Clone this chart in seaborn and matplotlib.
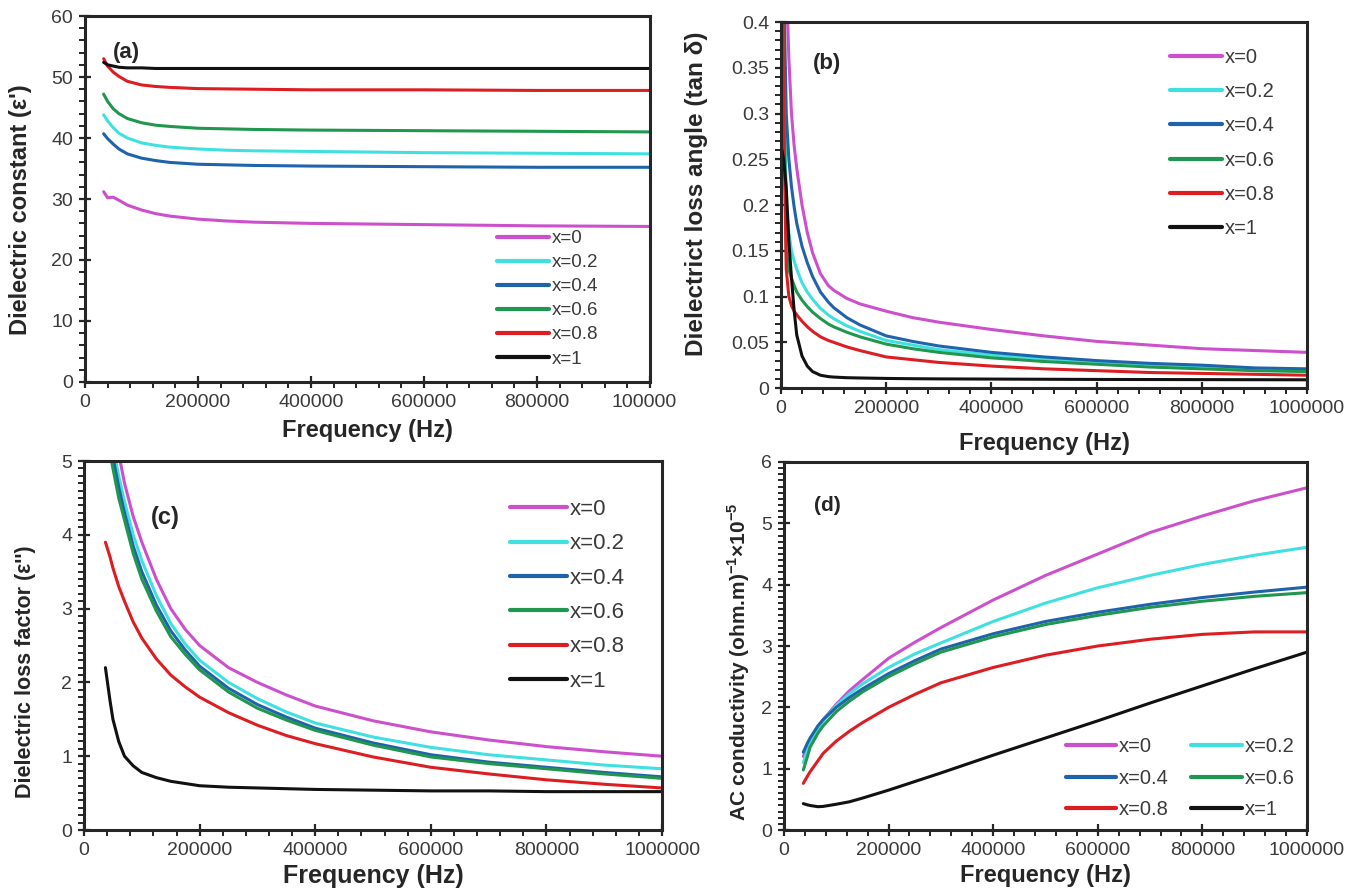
import numpy as np
import pandas as pd
import seaborn as sns
import matplotlib.pyplot as plt
from matplotlib.ticker import MultipleLocator, FormatStrFormatter
from matplotlib.transforms import Bbox, TransformedBbox

# ---- data ----
labels = ['x=0', 'x=0.2', 'x=0.4', 'x=0.6', 'x=0.8', 'x=1']
colors = ['#cc50cc', '#40e0e0', '#1f64aa', '#20964f', '#dc1e23', '#111111']

# (a) dielectric constant
freq_a = [33000, 40000, 50000, 60000, 75000, 100000, 125000, 150000, 200000, 250000, 300000, 400000, 600000, 800000, 1000000]
eps_x0 = [31.2, 30.2, 30.3, 29.8, 29.0, 28.2, 27.6, 27.2, 26.7, 26.4, 26.2, 26.0, 25.8, 25.6, 25.5]
eps_x02 = [43.8, 42.8, 41.7, 40.8, 40.0, 39.2, 38.8, 38.5, 38.2, 38.0, 37.9, 37.8, 37.6, 37.5, 37.4]
eps_x04 = [40.7, 39.9, 39.0, 38.2, 37.4, 36.7, 36.3, 36.0, 35.7, 35.6, 35.5, 35.4, 35.3, 35.2, 35.2]
eps_x06 = [47.2, 46.0, 44.8, 44.0, 43.2, 42.5, 42.1, 41.9, 41.6, 41.5, 41.4, 41.3, 41.2, 41.1, 41.0]
eps_x08 = [53.0, 51.8, 50.8, 50.1, 49.3, 48.7, 48.45, 48.3, 48.1, 48.05, 48.0, 47.9, 47.9, 47.8, 47.8]
eps_x1 = [52.4, 52.0, 51.8, 51.6, 51.5, 51.5, 51.4, 51.4, 51.4, 51.4, 51.4, 51.4, 51.4, 51.4, 51.4]

# (b) loss angle
freq_b = [2000, 5000, 10000, 15000, 20000, 25000, 30000, 40000, 50000, 60000, 75000, 90000, 100000,
          125000, 150000, 200000, 250000, 300000, 400000, 500000, 600000, 700000, 800000, 900000, 1000000]
tan_x0 = [1.2, 0.75, 0.45, 0.36, 0.30, 0.265, 0.24, 0.20, 0.17, 0.148, 0.125, 0.112, 0.107,
          0.098, 0.092, 0.084, 0.077, 0.072, 0.064, 0.057, 0.051, 0.047, 0.043, 0.041, 0.039]
tan_x02 = [0.8, 0.4, 0.2, 0.17, 0.15, 0.139, 0.13, 0.115, 0.105, 0.097, 0.087, 0.08, 0.076,
           0.068, 0.062, 0.052, 0.047, 0.042, 0.036, 0.032, 0.029, 0.026, 0.024, 0.021, 0.020]
tan_x04 = [0.9, 0.45, 0.30, 0.25, 0.22, 0.198, 0.18, 0.155, 0.137, 0.122, 0.105, 0.094, 0.088,
           0.077, 0.069, 0.057, 0.051, 0.046, 0.039, 0.034, 0.030, 0.027, 0.025, 0.022, 0.021]
tan_x06 = [0.7, 0.35, 0.15, 0.13, 0.12, 0.112, 0.105, 0.096, 0.089, 0.083, 0.076, 0.07, 0.067,
           0.061, 0.056, 0.048, 0.043, 0.039, 0.033, 0.029, 0.026, 0.023, 0.021, 0.019, 0.018]
tan_x08 = [0.6, 0.3, 0.13, 0.10, 0.09, 0.084, 0.08, 0.073, 0.067, 0.062, 0.056, 0.052, 0.05,
           0.045, 0.041, 0.034, 0.031, 0.028, 0.024, 0.021, 0.019, 0.017, 0.016, 0.015, 0.014]
tan_x1 = [0.26, 0.25, 0.22, 0.16, 0.12, 0.085, 0.058, 0.035, 0.024, 0.018, 0.014, 0.0125, 0.012,
          0.0113, 0.011, 0.0105, 0.0102, 0.010, 0.0098, 0.0096, 0.0094, 0.0093, 0.0092, 0.0091, 0.009]

# (c) loss factor
freq_c = [37000, 45000, 50000, 60000, 70000, 85000, 100000, 125000, 150000, 175000, 200000, 250000,
          300000, 350000, 400000, 500000, 600000, 700000, 800000, 900000, 1000000]
eps2_x0 = [6.5, 5.9, 5.6, 5.1, 4.7, 4.25, 3.9, 3.4, 3.0, 2.72, 2.5, 2.2,
           2.0, 1.83, 1.68, 1.48, 1.33, 1.22, 1.13, 1.06, 1.0]
eps2_x02 = [6.0, 5.5, 5.2, 4.8, 4.45, 4.0, 3.65, 3.18, 2.8, 2.52, 2.3, 2.0,
            1.78, 1.6, 1.45, 1.26, 1.12, 1.02, 0.95, 0.88, 0.83]
eps2_x04 = [5.8, 5.3, 5.05, 4.65, 4.3, 3.85, 3.5, 3.05, 2.7, 2.44, 2.22, 1.92,
            1.7, 1.53, 1.38, 1.18, 1.02, 0.92, 0.85, 0.78, 0.72]
eps2_x06 = [5.3, 5.1, 4.9, 4.5, 4.2, 3.75, 3.4, 2.97, 2.62, 2.38, 2.17, 1.87,
            1.65, 1.49, 1.35, 1.15, 0.99, 0.9, 0.83, 0.76, 0.70]
eps2_x08 = [3.9, 3.7, 3.55, 3.3, 3.1, 2.82, 2.6, 2.32, 2.1, 1.94, 1.8, 1.59,
            1.42, 1.28, 1.17, 0.99, 0.85, 0.76, 0.68, 0.62, 0.57]
eps2_x1 = [2.2, 1.75, 1.5, 1.2, 1.0, 0.87, 0.78, 0.71, 0.66, 0.63, 0.6, 0.58,
           0.57, 0.56, 0.55, 0.54, 0.53, 0.53, 0.52, 0.52, 0.52]

# (d) AC conductivity
freq_d = [37000, 45000, 50000, 65000, 75000, 100000, 125000, 150000, 200000, 250000, 300000,
          400000, 500000, 600000, 700000, 800000, 900000, 1000000]
sig_x0 = [1.2, 1.38, 1.45, 1.68, 1.8, 2.05, 2.27, 2.45, 2.8, 3.06, 3.3,
          3.75, 4.15, 4.5, 4.85, 5.12, 5.37, 5.58]
sig_x02 = [1.1, 1.3, 1.42, 1.65, 1.78, 2.03, 2.22, 2.38, 2.65, 2.87, 3.05,
           3.4, 3.7, 3.95, 4.15, 4.33, 4.48, 4.61]
sig_x04 = [1.27, 1.42, 1.5, 1.7, 1.8, 2.0, 2.16, 2.3, 2.55, 2.76, 2.95,
           3.2, 3.4, 3.55, 3.68, 3.79, 3.88, 3.96]
sig_x06 = [0.98, 1.2, 1.35, 1.58, 1.7, 1.93, 2.1, 2.25, 2.5, 2.71, 2.9,
           3.15, 3.35, 3.5, 3.63, 3.73, 3.81, 3.87]
sig_x08 = [0.76, 0.88, 0.95, 1.13, 1.25, 1.45, 1.61, 1.75, 2.0, 2.21, 2.4,
           2.65, 2.85, 3.0, 3.11, 3.19, 3.23, 3.23]
sig_x1 = [0.43, 0.41, 0.40, 0.38, 0.385, 0.42, 0.46, 0.52, 0.65, 0.79, 0.93,
          1.22, 1.5, 1.78, 2.07, 2.35, 2.63, 2.9]


def long_df(freq, series):
    rows = []
    for lab, vals in zip(labels, series):
        for f, v in zip(freq, vals):
            rows.append({'freq': f, 'val': v, 'x': lab})
    return pd.DataFrame(rows)


sns.set_style('ticks')
plt.rcParams['font.family'] = ['Liberation Sans', 'DejaVu Sans']
plt.rcParams['mathtext.fontset'] = 'custom'
plt.rcParams['mathtext.rm'] = 'Liberation Sans'
plt.rcParams['mathtext.bf'] = 'Liberation Sans:bold'

fig = plt.figure(figsize=(13.62, 8.9), dpi=100)

panels = [
    dict(rect=[0.0624, 0.5708, 0.4148, 0.4112], df=long_df(freq_a, [eps_x0, eps_x02, eps_x04, eps_x06, eps_x08, eps_x1]),
         ylim=(0, 60), ymaj=10, ymin=2, ylabel="Dielectric constant (ε')", ysize=17, ypos=(-0.093, 0.47),
         xsize=17, xpad=6, tag='(a)', tagpos=(0.05, 0.90), tagsize=16,
         leg=dict(loc='upper left', bbox_to_anchor=(0.729, 0.415), fontsize=13.5, labelspacing=0.37,
                  handlelength=2.8)),
    dict(rect=[0.5734, 0.564, 0.3862, 0.4112], df=long_df(freq_b, [tan_x0, tan_x02, tan_x04, tan_x06, tan_x08, tan_x1]),
         ylim=(0, 0.4), ymaj=0.05, ymin=0.01, ylabel='Dielectrict loss angle (tan δ)', ysize=17.5, ypos=(-0.139, 0.53),
         xsize=17, xpad=11, tag='(b)', tagpos=(0.06, 0.888), tagsize=16,
         leg=dict(loc='upper left', bbox_to_anchor=(0.74, 0.93), fontsize=14.5, labelspacing=0.76,
                  handlelength=2.55)),
    dict(rect=[0.0617, 0.0674, 0.4244, 0.4146], df=long_df(freq_c, [eps2_x0, eps2_x02, eps2_x04, eps2_x06, eps2_x08, eps2_x1]),
         ylim=(0, 5), ymaj=1, ymin=0.1, ylabel="Dielectric loss factor (ε'')", ysize=15.5, ypos=(-0.083, 0.43),
         xsize=18, xpad=3.5, tag='(c)', tagpos=(0.116, 0.848), tagsize=17,
         leg=dict(loc='upper left', bbox_to_anchor=(0.737, 0.897), fontsize=16, labelspacing=0.6,
                  handlelength=2.55)),
    dict(rect=[0.5756, 0.0674, 0.384, 0.4135], df=long_df(freq_d, [sig_x0, sig_x02, sig_x04, sig_x06, sig_x08, sig_x1]),
         ylim=(0, 6), ymaj=1, ymin=0.1,
         ylabel='AC conductivity (ohm.m)$^{\\mathbf{-1}}$×10$^{\\mathbf{-5}}$', ysize=15, ypos=(-0.062, 0.456),
         xsize=17, xpad=3.5, tag='(d)', tagpos=(0.058, 0.883), tagsize=15,
         leg=dict(loc='upper left', bbox_to_anchor=(0.539, 0.253), fontsize=14.5, labelspacing=0.63,
                  handlelength=2.5, ncol=2, columnspacing=1.1)),
]

for i, p in enumerate(panels):
    ax = fig.add_axes(p['rect'])
    sns.lineplot(data=p['df'], x='freq', y='val', hue='x', hue_order=labels,
                 palette=colors, linewidth=2.2, ax=ax, sort=False)
    ax.set_xlim(0, 1000000)
    ax.set_ylim(*p['ylim'])
    ax.xaxis.set_major_locator(MultipleLocator(200000))
    ax.xaxis.set_minor_locator(MultipleLocator(40000))
    ax.xaxis.set_major_formatter(FormatStrFormatter('%d'))
    ax.yaxis.set_major_locator(MultipleLocator(p['ymaj']))
    ax.yaxis.set_minor_locator(MultipleLocator(p['ymin']))
    ax.yaxis.set_major_formatter(FormatStrFormatter('%g'))
    ax.tick_params(which='major', direction='inout', length=8, width=1.6, labelsize=14,
                   labelcolor='#3a3a3a', pad=4.5)
    ax.tick_params(which='minor', direction='out', length=4, width=1.4)
    for s in ax.spines.values():
        s.set_linewidth(2.2)
    ax.set_xlabel('Frequency (Hz)', fontsize=p['xsize'], fontweight='bold', labelpad=p['xpad'])
    ax.set_ylabel(p['ylabel'], fontsize=p['ysize'], fontweight='bold')
    ax.yaxis.set_label_coords(*p['ypos'])
    ax.text(p['tagpos'][0], p['tagpos'][1], p['tag'], transform=ax.transAxes,
            fontsize=p['tagsize'], fontweight='bold', va='center', ha='left')
    handles, labs = ax.get_legend_handles_labels()
    for h in handles:
        h.set_linewidth(3)
    if p['leg'].get('ncol') == 2:
        order = [0, 2, 4, 1, 3, 5]
        handles = [handles[k] for k in order]
        labs = [labs[k] for k in order]
    leg = ax.legend(handles, labs, frameon=False, handletextpad=0.15, borderaxespad=0,
                    borderpad=0, **p['leg'])
    for t in leg.get_texts():
        t.set_color('#3a3a3a')
    # the last x tick label of panel (a) is cut at the panel edge in the original
    if i == 0:
        clip = TransformedBbox(Bbox([[0, 0], [0.497, 1]]), fig.transFigure)
        for lbl in ax.get_xticklabels():
            lbl.set_clip_box(clip)
            lbl.set_clip_on(True)

fig.savefig('out.png', dpi=100, facecolor='white')
